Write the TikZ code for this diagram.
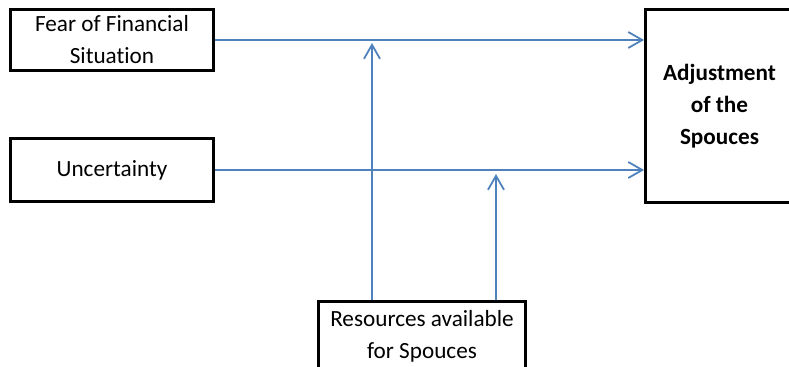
\documentclass[tikz,border=0pt]{standalone}
\usepackage{fontspec}
\setmainfont{Carlito}[Ligatures=NoCommon]
\usetikzlibrary{arrows.meta}
\definecolor{linkblue}{RGB}{79,129,189}
\tikzset{
  factor/.style={draw, line width=1.4pt, rectangle, align=center, inner sep=0pt,
    font=\fontsize{11.6}{16}\selectfont},
  link/.style={linkblue, line width=0.9pt, -{Straight Barb[length=7pt,width=8pt]}}
}

\begin{document}
\begin{tikzpicture}[x=0.5pt,y=-0.5pt]
\useasboundingbox (0,0) rectangle (789,367);
\clip (0,0) rectangle (789,367);
\node[factor, minimum width=101.5pt, minimum height=30.5pt] (fear) at (112,40) {Fear of Financial\\Situation};
\node[factor, minimum width=101.5pt, minimum height=31.5pt] (unc) at (112,170) {Uncertainty};
\node[factor, minimum width=74pt, minimum height=96.5pt, font=\fontsize{11.6}{16}\selectfont\bfseries] (adj) at (719.5,106) {Adjustment\\of the\\Spouces};
\node[factor, minimum width=103.5pt, minimum height=34.5pt] (res) at (422,336) {Resources available\\for Spouces};
\coordinate (upA) at (372,43);
\coordinate (upB) at (496,174);
\draw[link] (fear.east) -- (fear.east -| adj.west);
\draw[link] (unc.east) -- (unc.east -| adj.west);
\draw[link] (res.north -| upA) -- (upA);
\draw[link] (res.north -| upB) -- (upB);
\end{tikzpicture}
\end{document}
